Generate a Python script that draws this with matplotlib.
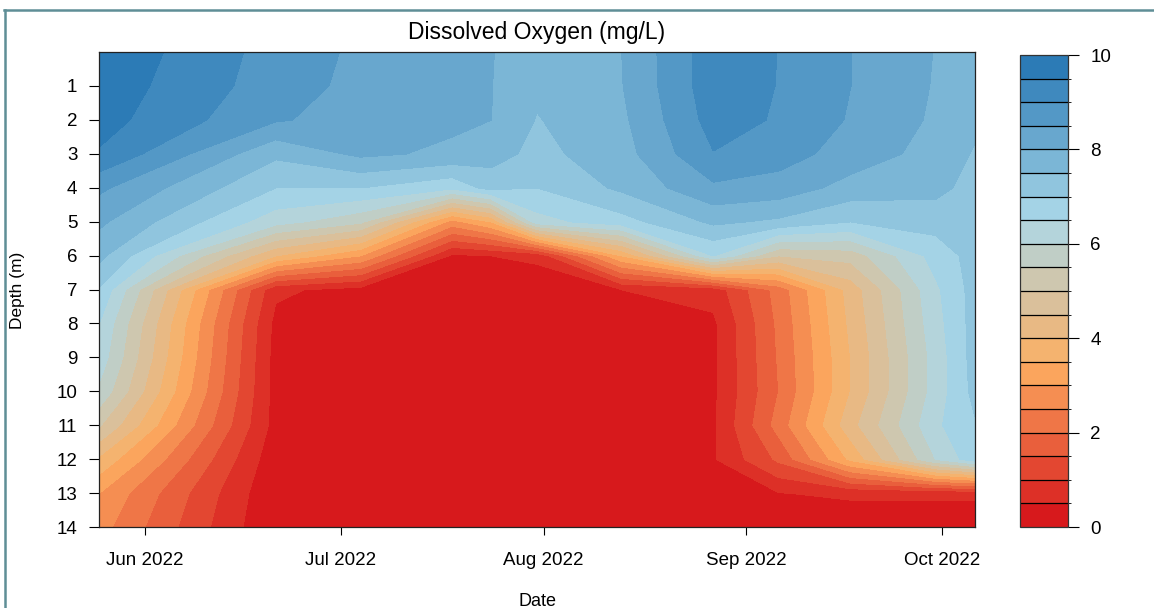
import numpy as np
import pandas as pd
import matplotlib
matplotlib.use("Agg")
import matplotlib.pyplot as plt
import matplotlib.dates as mdates
from matplotlib.colors import LinearSegmentedColormap, ListedColormap, BoundaryNorm
from matplotlib.lines import Line2D

plt.rcParams["font.family"] = ["Liberation Sans", "DejaVu Sans"]

# Sampling dates and depths (m)
dates = ["2022-05-25", "2022-06-21", "2022-07-04", "2022-07-18", "2022-07-24",
         "2022-07-31", "2022-08-13", "2022-08-27", "2022-09-06", "2022-09-17",
         "2022-09-30", "2022-10-06"]
depths = [0, 1, 2, 3, 4, 5, 6, 7, 8, 9, 10, 11, 12, 13, 14]

# Dissolved oxygen profiles (mg/L), one list per date, depth 0 -> 14 m
do_may25 = [9.9, 9.8, 9.7, 9.45, 8.6, 8.1, 7.65, 6.95, 6.5, 6.3, 5.9, 5.05, 3.9, 3.0, 2.7]
do_jun21 = [8.8, 8.75, 8.55, 7.6, 7.0, 6.2, 4.0, 0.6, 0.35, 0.3, 0.3, 0.3, 0.15, 0.05, 0.0]
do_jul04 = [8.4, 8.35, 8.3, 8.1, 7.0, 5.6, 3.0, 0.3, 0.1, 0.1, 0.1, 0.1, 0.1, 0.05, 0.0]
do_jul18 = [8.2, 8.15, 8.1, 7.9, 6.6, 2.8, 0.4, 0.1, 0.1, 0.1, 0.1, 0.1, 0.1, 0.05, 0.0]
do_jul24 = [8.02, 8.01, 8.0, 7.7, 7.2, 3.5, 0.5, 0.2, 0.1, 0.1, 0.1, 0.1, 0.1, 0.05, 0.0]
do_jul31 = [7.7, 7.6, 7.47, 7.35, 7.0, 6.3, 0.6, 0.2, 0.1, 0.1, 0.1, 0.1, 0.1, 0.05, 0.0]
do_aug13 = [8.0, 7.98, 7.9, 7.8, 7.6, 6.8, 3.5, 0.5, 0.1, 0.1, 0.1, 0.1, 0.1, 0.05, 0.0]
do_aug27 = [9.3, 9.3, 9.2, 8.98, 8.4, 7.6, 6.5, 0.7, 0.4, 0.4, 0.4, 0.42, 0.45, 0.4, 0.0]
do_sep06 = [8.99, 8.98, 8.95, 8.7, 8.3, 7.4, 5.0, 2.2, 2.1, 2.05, 2.0, 2.2, 1.6, 0.48, 0.1]
do_sep17 = [8.5, 8.5, 8.45, 8.3, 7.8, 7.0, 5.2, 4.2, 4.1, 4.0, 4.0, 4.3, 3.6, 0.6, 0.1]
do_sep30 = [7.98, 7.96, 7.92, 7.8, 7.65, 7.2, 6.7, 6.4, 6.3, 6.2, 6.2, 6.4, 6.0, 0.6, 0.1]
do_oct06 = [7.8, 7.75, 7.6, 7.45, 7.3, 7.25, 7.2, 7.2, 7.2, 7.2, 7.15, 6.95, 6.8, 0.6, 0.1]

profiles = [do_may25, do_jun21, do_jul04, do_jul18, do_jul24, do_jul31,
            do_aug13, do_aug27, do_sep06, do_sep17, do_sep30, do_oct06]

levels = np.arange(0, 10.5, 0.5)
colorbar_ticks = [0, 2, 4, 6, 8, 10]

# palette like colorRampPalette(c(red, orange, light blue, blue))(20)
ramp = LinearSegmentedColormap.from_list(
    "do", ["#D7191C", "#FDAE61", "#ABD9E9", "#2C7BB6"])
cmap = ListedColormap([ramp(i / 19) for i in range(20)])
norm = BoundaryNorm(levels, cmap.N)

x = mdates.date2num(pd.to_datetime(dates))
y = np.array(depths)
z = np.array(profiles).T  # shape (depth, date)

W, H = 1154, 608
fig = plt.figure(figsize=(W / 100, H / 100), dpi=100)
ax = fig.add_axes([99 / W, 1 - 527 / H, (975 - 99) / W, (527 - 52) / H])
cax = fig.add_axes([1020 / W, 1 - 527 / H, 48 / W, (527 - 55) / H])

cs = ax.contourf(x, y, z, levels=levels, cmap=cmap, norm=norm)
cs.set_edgecolor("face")
cs.set_linewidth(0.4)

ax.set_xlim(x[0], x[-1])
ax.set_ylim(14, 0)
ax.set_yticks(range(1, 15))
ax.xaxis.set_major_locator(mdates.MonthLocator())
ax.xaxis.set_major_formatter(mdates.DateFormatter("%b %Y"))
ax.tick_params(axis="y", direction="out", length=7.5, width=0.8,
               labelsize=13.5, pad=8)
ax.tick_params(axis="x", direction="out", length=6, width=0.8,
               labelsize=13.5, pad=12)
for sp in ax.spines.values():
    sp.set_linewidth(0.9)
    sp.set_color("#222222")

cb = fig.colorbar(cs, cax=cax, ticks=colorbar_ticks, drawedges=True)
cb.dividers.set_color("black")
cb.dividers.set_linewidth(0.9)
cb.outline.set_edgecolor("#333333")
cb.outline.set_linewidth(0.9)
cax.tick_params(direction="out", length=8, width=0.8, labelsize=13.5, pad=8)

fig.text(537 / W, 1 - 32 / H, "Dissolved Oxygen (mg/L)", ha="center",
         va="center", fontsize=16.5)
fig.text(18 / W, 1 - 290 / H, "Depth (m)", rotation=90, ha="center",
         va="center", fontsize=12.5)
fig.text(537 / W, 1 - 601 / H, "Date", ha="center", va="center", fontsize=13)

# window frame seen in the screenshot
frame = "#5F8E96"
fig.add_artist(Line2D([4 / W, 1], [1 - 10 / H, 1 - 10 / H], color=frame, lw=1.8))
fig.add_artist(Line2D([5 / W, 5 / W], [0, 1 - 10 / H], color=frame, lw=1.8))

fig.savefig("out.png", dpi=100)
